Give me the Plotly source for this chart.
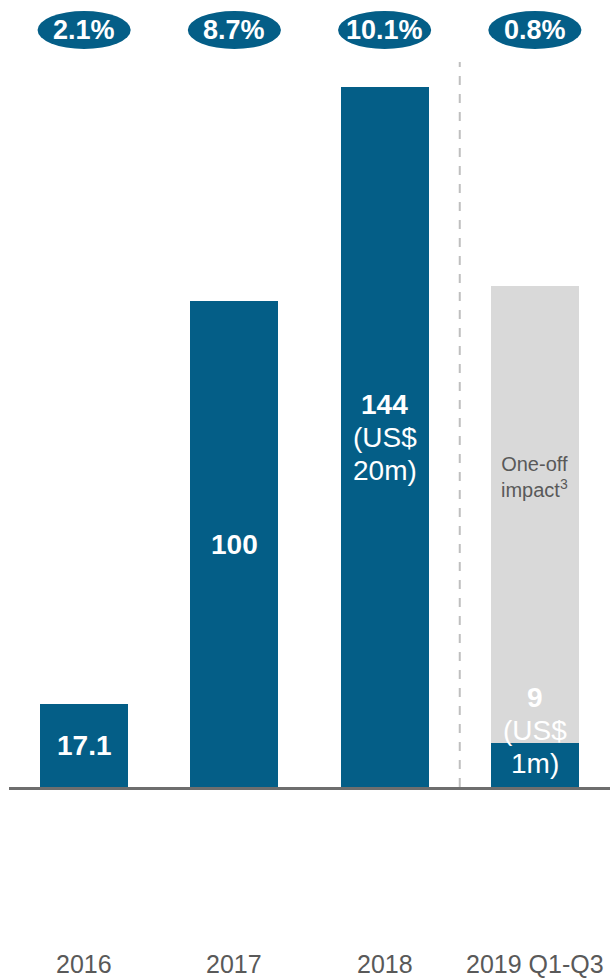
import plotly.graph_objects as go

# Data
categories = ["2016", "2017", "2018", "2019 Q1-Q3"]
core_values = [17.1, 100, 144, 9]
one_off_values = [0, 0, 0, 94]
margin_pct = ["2.1%", "8.7%", "10.1%", "0.8%"]
core_labels = [["<b>17.1</b>"], ["<b>100</b>"], ["<b>144</b>", "(US$", "20m)"], ["<b>9</b>", "(US$", "1m)"]]
one_off_label = "One-off<br>impact<sup>3</sup>"

BLUE = "#045E87"
GREY_BAR = "#D9D9D9"
TEXT_GREY = "#595959"
FONT = "Liberation Sans, Arial, sans-serif"

W, H = 610, 978
PLOT_BOTTOM = 787          # pixel row of the baseline
PX_PER_UNIT = 4.86
Y_MAX = PLOT_BOTTOM / PX_PER_UNIT
LINE_GAP = 33              # pixels between stacked label lines


def y_at(px):
    """Data value at a given pixel row of the plot area."""
    return (PLOT_BOTTOM - px) / PX_PER_UNIT


xs = list(range(len(categories)))

fig = go.Figure()
fig.add_trace(go.Bar(x=xs, y=core_values, marker_color=BLUE, width=0.586,
                     marker_line_width=0, hoverinfo="skip"))
fig.add_trace(go.Bar(x=xs, y=one_off_values, marker_color=GREY_BAR, width=0.586,
                     marker_line_width=0, hoverinfo="skip"))

shapes = []
annotations = []

# Separator before the partial year
shapes.append(dict(type="line", xref="x", yref="y", x0=2.5, x1=2.5, y0=0, y1=y_at(62),
                   line=dict(color="#BFBFBF", width=2, dash="dash")))

for i, cat in enumerate(categories):
    # Margin bubble
    shapes.append(dict(type="circle", xref="x", yref="y", x0=i - 0.31, x1=i + 0.31,
                       y0=y_at(49), y1=y_at(11), fillcolor=BLUE, line_width=0))
    annotations.append(dict(x=i, y=y_at(30), xref="x", yref="y", yanchor="middle",
                            text=f"<b>{margin_pct[i]}</b>", showarrow=False,
                            font=dict(color="white", size=27, family=FONT)))
    # Category label below the chart
    annotations.append(dict(x=i, y=(PLOT_BOTTOM - 964) / PLOT_BOTTOM, xref="x", yref="paper",
                            yanchor="middle", text=cat, showarrow=False,
                            font=dict(color=TEXT_GREY, size=25, family=FONT)))


def add_stacked_label(x, centre, lines):
    """Write a multi-line white label, one line per annotation, centred on `centre`."""
    n = len(lines)
    for k, line in enumerate(lines):
        shift = ((n - 1) / 2 - k) * LINE_GAP
        annotations.append(dict(x=x, y=centre, xref="x", yref="y", yanchor="middle",
                                yshift=shift, text=line, showarrow=False,
                                font=dict(color="white", size=28, family=FONT)))


# Value labels inside bars
for i in range(3):
    add_stacked_label(i, core_values[i] / 2, core_labels[i])
add_stacked_label(3, y_at(730), core_labels[3])

annotations.append(dict(x=3, y=y_at(477), xref="x", yref="y", yanchor="middle",
                        text=one_off_label, showarrow=False, align="center",
                        font=dict(color=TEXT_GREY, size=20, family=FONT)))

fig.update_layout(
    width=W, height=H,
    margin=dict(l=9, r=0, t=0, b=H - PLOT_BOTTOM),
    paper_bgcolor="white", plot_bgcolor="white",
    barmode="stack", showlegend=False,
    xaxis=dict(range=[-0.5, 3.5], showticklabels=False, showgrid=False, zeroline=False,
               showline=True, linecolor="#6E6E6E", linewidth=3, ticks=""),
    yaxis=dict(range=[0, Y_MAX], showticklabels=False, showgrid=False, zeroline=False,
               showline=False, ticks=""),
    shapes=shapes, annotations=annotations,
)

fig.write_html("out.html")
